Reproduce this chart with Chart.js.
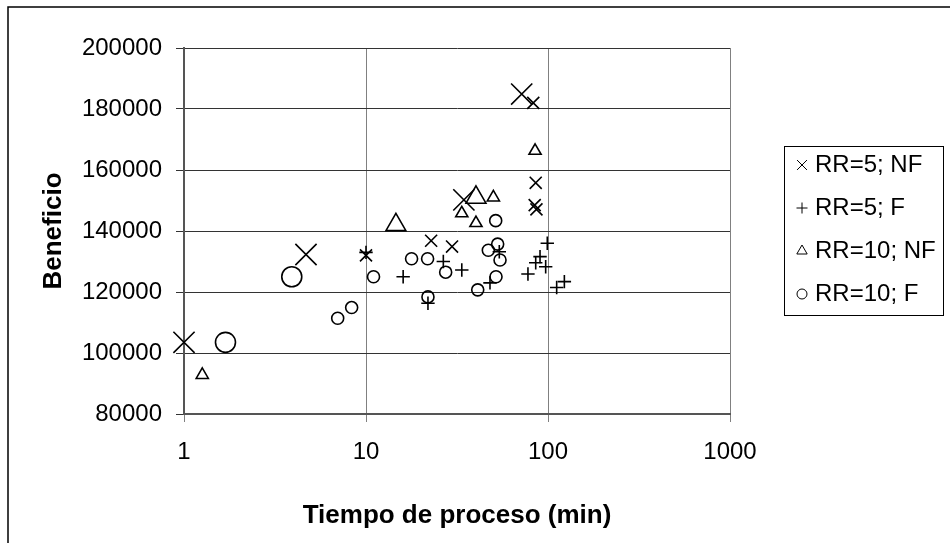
<!DOCTYPE html>
<html>
<head>
<meta charset="utf-8">
<script src="https://cdn.jsdelivr.net/npm/chart.js@4/dist/chart.umd.min.js"></script>
<style>
html,body{margin:0;padding:0;background:#fff}
#wrap{width:950px;height:543px}
</style>
</head>
<body>
<div id="wrap"><canvas id="chart" width="950" height="543"></canvas></div>
<script>

/* DATA */

const seriesNames=["RR=5; NF","RR=5; F","RR=10; NF","RR=10; F"]

const xTicks=[1,10,100,1000]

// RR=5; NF
const nf5X=[10,22.8,29.7,83,85.6,84.5,86.4]
const nf5Y=[132000,136800,134900,182000,155800,148500,147100]
const nf5BigX=[1,4.68,34.5,71.7]
const nf5BigY=[103500,132300,150200,184900]

// RR=5; F
const f5X=[10,16,26.6,33.6,21.9,48,54,99.1,90.4,85.6,97.1,77.6,123,111.6]
const f5Y=[133000,125000,130000,127200,116300,123000,133200,136000,131600,129600,128300,125900,123400,121500]

// RR=10; NF
const nf10X=[1.26,33.6,40.2,50.1,84.9]
const nf10Y=[92800,145800,142600,151000,166300]
const nf10BigX=[14.6,40.2]
const nf10BigY=[142000,151000]

// RR=10; F
const f10X=[6.99,8.34,11.0,17.8,21.8,27.4,21.9,41.1,47,52.9,54.5,51.8,51.6]
const f10Y=[111400,114900,125000,130900,130900,126500,118400,120700,133700,135700,130500,125000,143400]
const f10BigX=[1.69,3.91]
const f10BigY=[103500,125000]


function pts(xs,ys){
return xs.map((v,i)=>({x:v,y:ys[i]}))
}

function series(label,xs,ys,style,r){
return{
label:label,
data:pts(xs,ys),
showLine:false,
clip:false,
pointStyle:style,
pointRadius:r,
pointHoverRadius:r,
pointBorderColor:"#000",
pointBackgroundColor:"rgba(0,0,0,0)",
pointBorderWidth:1.6
}
}

const FONT="'Liberation Sans', Arial, sans-serif"


/* FRAME + LEGEND */

const frame={
id:"frame",
beforeDraw(chart){
const ctx=chart.ctx
ctx.save()
ctx.fillStyle="#fff"
ctx.fillRect(0,0,chart.width,chart.height)
ctx.strokeStyle="#000"
ctx.lineWidth=1.5
ctx.beginPath()
ctx.moveTo(8,543)
ctx.lineTo(8,7)
ctx.lineTo(950,7)
ctx.stroke()
ctx.restore()
},
afterDraw(chart){
const ctx=chart.ctx
ctx.save()
ctx.strokeStyle="#000"
ctx.lineWidth=1
ctx.strokeRect(784.5,146.5,159,169)

const styles=[["crossRot",7],["cross",5.5],["triangle",6],["circle",5]]

ctx.font="24px "+FONT
ctx.textBaseline="middle"
ctx.textAlign="left"

seriesNames.forEach((name,i)=>{
let y=165+i*43
ctx.strokeStyle="#000"
ctx.fillStyle="rgba(0,0,0,0)"
Chart.helpers.drawPoint(ctx,{pointStyle:styles[i][0],radius:styles[i][1],borderWidth:1.3,rotation:0},802,y)
ctx.fillStyle="#000"
ctx.fillText(name,815,y)
})

ctx.restore()
}
}


/* CHART */

new Chart(document.getElementById("chart"),{

type:"scatter",

data:{
datasets:[
series(seriesNames[0],nf5X,nf5Y,"crossRot",8.5),
series(seriesNames[1],f5X,f5Y,"cross",6.7),
series(seriesNames[2],nf10X,nf10Y,"triangle",7),
series(seriesNames[3],f10X,f10Y,"circle",6),
series("",nf5BigX,nf5BigY,"crossRot",15),
series("",nf10BigX,nf10BigY,"triangle",11.5),
series("",f10BigX,f10BigY,"circle",10)
]
},

options:{
responsive:false,
animation:false,
devicePixelRatio:1,
layout:{padding:{left:8,top:48,right:220,bottom:9}},
plugins:{
legend:{display:false},
tooltip:{enabled:false}
},
scales:{
x:{
type:"logarithmic",
min:1,
max:1000,
afterBuildTicks(s){s.ticks=xTicks.map(v=>({value:v}))},
afterFit(s){s.height=120},
ticks:{
autoSkip:false,
maxRotation:0,
padding:16,
color:"#000",
font:{size:24,family:FONT},
callback:v=>String(v)
},
grid:{color:"#808080",tickLength:8,lineWidth:1},
border:{color:"#555",width:2},
title:{
display:true,
text:"Tiempo de proceso (min)",
color:"#000",
font:{size:26,weight:"bold",family:FONT},
padding:{top:0,bottom:3}
}
},
y:{
min:80000,
max:200000,
afterFit(s){s.width=176},
ticks:{
stepSize:20000,
padding:14,
color:"#000",
font:{size:24,family:FONT},
callback:v=>String(v)
},
grid:{color:"#333",tickLength:8,lineWidth:1},
border:{color:"#555",width:2},
title:{
display:true,
text:"Beneficio",
color:"#000",
font:{size:26,weight:"bold",family:FONT},
padding:{top:30,bottom:0}
}
}
}
},

plugins:[frame]

})

</script>
</body>
</html>
